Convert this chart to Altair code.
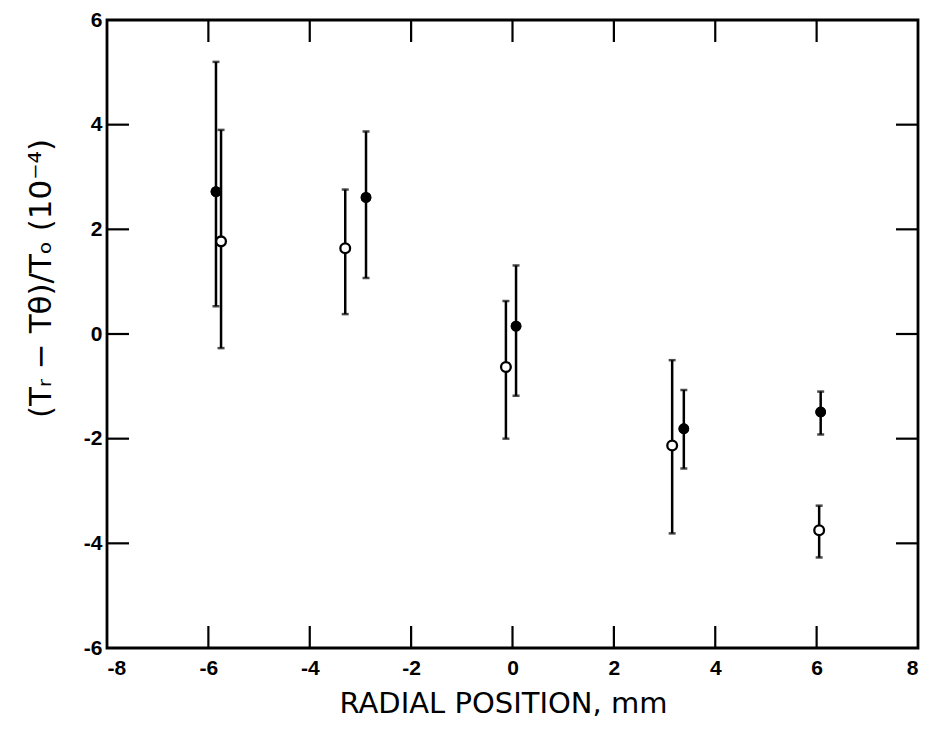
import altair as alt
import pandas as pd

# Data
filled_x = [-5.85, -2.89, 0.07, 3.38, 6.08]
filled_y = [2.72, 2.61, 0.15, -1.81, -1.49]
filled_lo = [0.53, 1.07, -1.18, -2.57, -1.92]
filled_hi = [5.20, 3.87, 1.31, -1.07, -1.10]

open_x = [-5.75, -3.30, -0.13, 3.15, 6.05]
open_y = [1.77, 1.64, -0.63, -2.13, -3.75]
open_lo = [-0.27, 0.38, -2.00, -3.81, -4.27]
open_hi = [3.90, 2.76, 0.63, -0.50, -3.28]

x_ticks = [-8, -6, -4, -2, 0, 2, 4, 6, 8]
y_ticks = [-6, -4, -2, 0, 2, 4, 6]
x_inner = [-6, -4, -2, 0, 2, 4, 6]
y_inner = [-4, -2, 0, 2, 4]

W, H = 811, 628
TL = 22
FONT = "Liberation Sans"
TFONT = "DejaVu Sans"
LBL = "datum.value < 0 ? '-' + abs(datum.value) : '' + datum.value"

df_f = pd.DataFrame({"x": filled_x, "y": filled_y, "lo": filled_lo, "hi": filled_hi})
df_o = pd.DataFrame({"x": open_x, "y": open_y, "lo": open_lo, "hi": open_hi})

xs = alt.Scale(domain=[-8, 8], nice=False, zero=False)
ys = alt.Scale(domain=[-6, 6], nice=False, zero=False)

X = alt.X("x:Q", scale=xs, axis=alt.Axis(values=x_ticks, title="RADIAL POSITION, mm",
                                         titleFont=TFONT, titleFontSize=29, titleFontWeight="normal",
                                         titleX=396, titleY=41, titleBaseline="top",
                                         labelPadding=9, labelExpr=LBL))
Y = alt.Y("y:Q", scale=ys, axis=alt.Axis(values=y_ticks, title="(Tᵣ − Tθ)/Tₒ    (10⁻⁴)",
                                         titleFont=TFONT, titleFontSize=31, titleFontWeight="normal",
                                         titleX=-50, titleY=258, titleAlign="center",
                                         titleAngle=270, titleBaseline="bottom",
                                         labelPadding=5, labelExpr=LBL))


def errbars(df):
    base = alt.Chart(df)
    rule = base.mark_rule(color="black", strokeWidth=2.5).encode(
        x=alt.X("x:Q", scale=xs), y=alt.Y("lo:Q", scale=ys), y2="hi:Q")
    cap_lo = base.mark_tick(color="black", orient="horizontal", size=7, thickness=2.5).encode(
        x=alt.X("x:Q", scale=xs), y=alt.Y("lo:Q", scale=ys))
    cap_hi = base.mark_tick(color="black", orient="horizontal", size=7, thickness=2.5).encode(
        x=alt.X("x:Q", scale=xs), y=alt.Y("hi:Q", scale=ys))
    return rule + cap_lo + cap_hi


pts_f = alt.Chart(df_f).mark_point(shape="circle", filled=True, color="black", size=115, opacity=1).encode(
    x=X, y=Y)
pts_o = alt.Chart(df_o).mark_point(shape="circle", filled=True, fill="white", stroke="black",
                                   strokeWidth=2.3, size=95, opacity=1).encode(
    x=alt.X("x:Q", scale=xs), y=alt.Y("y:Q", scale=ys))

# inward ticks on all four sides
tx = pd.DataFrame({"t": x_inner})
ty = pd.DataFrame({"t": y_inner})
tb = alt.Chart(tx).mark_rule(color="black", strokeWidth=2.2).encode(
    x=alt.X("t:Q", scale=xs), y=alt.value(H), y2=alt.value(H - TL))
tt = alt.Chart(tx).mark_rule(color="black", strokeWidth=2.2).encode(
    x=alt.X("t:Q", scale=xs), y=alt.value(0), y2=alt.value(TL))
tl = alt.Chart(ty).mark_rule(color="black", strokeWidth=2.2).encode(
    y=alt.Y("t:Q", scale=ys), x=alt.value(0), x2=alt.value(TL))
tr = alt.Chart(ty).mark_rule(color="black", strokeWidth=2.2).encode(
    y=alt.Y("t:Q", scale=ys), x=alt.value(W), x2=alt.value(W - TL))

chart = alt.layer(
    pts_f, errbars(df_f), errbars(df_o), tb, tt, tl, tr, pts_o, pts_f
).properties(
    width=W, height=H,
    autosize=alt.AutoSizeParams(type="none"),
    padding={"left": 99, "top": 12, "right": 5, "bottom": 90},
    background="white",
).configure_axis(
    grid=False, ticks=False, domain=False,
    labelFont=FONT, labelFontSize=21, labelFontWeight="bold", labelColor="black",
    titleColor="black",
).configure_view(
    stroke="black", strokeWidth=2.8
)

chart.save("out.html", embed_options={"renderer": "svg", "actions": False})
